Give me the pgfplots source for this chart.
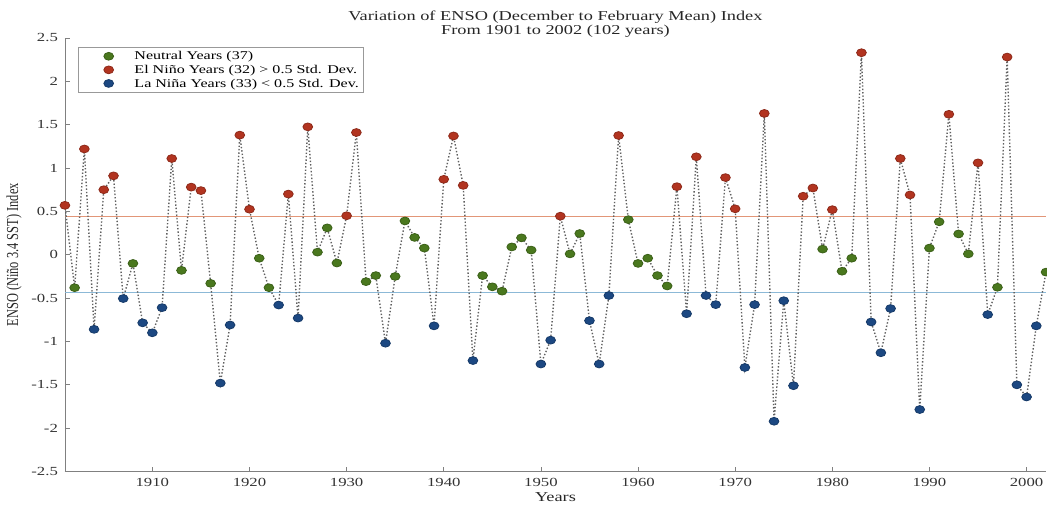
\documentclass[border=0pt]{standalone}
\usepackage{fontspec}
\setmainfont[FakeStretch=1.35]{Liberation Serif}
\newfontfamily\ylfont[FakeStretch=0.74]{Liberation Serif}
\usepackage{pgfplots}
\usepackage{pgfplotstable}
\pgfplotsset{compat=1.18}

\definecolor{ngreen}{RGB}{74,120,30}
\definecolor{nred}{RGB}{178,52,32}
\definecolor{nblue}{RGB}{28,72,130}
\definecolor{hlorange}{RGB}{226,150,120}
\definecolor{hlblue}{RGB}{140,185,215}

% DJF ENSO index, class: n = neutral, e = El Nino, l = La Nina
\pgfplotstableread{
year val cls
1901 0.57 e
1902 -0.38 n
1903 1.22 e
1904 -0.86 l
1905 0.75 e
1906 0.91 e
1907 -0.505 l
1908 -0.10 n
1909 -0.785 l
1910 -0.90 l
1911 -0.61 l
1912 1.11 e
1913 -0.18 n
1914 0.78 e
1915 0.74 e
1916 -0.33 n
1917 -1.48 l
1918 -0.81 l
1919 1.38 e
1920 0.525 e
1921 -0.04 n
1922 -0.38 n
1923 -0.58 l
1924 0.70 e
1925 -0.73 l
1926 1.475 e
1927 0.03 n
1928 0.31 n
1929 -0.095 n
1930 0.45 e
1931 1.41 e
1932 -0.31 n
1933 -0.24 n
1934 -1.02 l
1935 -0.25 n
1936 0.39 n
1937 0.20 n
1938 0.077 n
1939 -0.82 l
1940 0.87 e
1941 1.37 e
1942 0.80 e
1943 -1.22 l
1944 -0.24 n
1945 -0.37 n
1946 -0.42 n
1947 0.09 n
1948 0.195 n
1949 0.054 n
1950 -1.26 l
1951 -0.985 l
1952 0.445 e
1953 0.01 n
1954 0.245 n
1955 -0.76 l
1956 -1.26 l
1957 -0.47 l
1958 1.375 e
1959 0.405 n
1960 -0.10 n
1961 -0.04 n
1962 -0.24 n
1963 -0.36 n
1964 0.785 e
1965 -0.68 l
1966 1.13 e
1967 -0.47 l
1968 -0.575 l
1969 0.89 e
1970 0.53 e
1971 -1.30 l
1972 -0.575 l
1973 1.63 e
1974 -1.92 l
1975 -0.53 l
1976 -1.51 l
1977 0.675 e
1978 0.77 e
1979 0.065 n
1980 0.52 e
1981 -0.19 n
1982 -0.04 n
1983 2.33 e
1984 -0.775 l
1985 -1.13 l
1986 -0.62 l
1987 1.11 e
1988 0.69 e
1989 -1.785 l
1990 0.077 n
1991 0.38 n
1992 1.62 e
1993 0.24 n
1994 0.01 n
1995 1.06 e
1996 -0.69 l
1997 -0.375 n
1998 2.28 e
1999 -1.50 l
2000 -1.64 l
2001 -0.82 l
2002 -0.20 n
}\ensodata

\begin{document}
\begin{tikzpicture}
\begin{axis}[
    name=ax,
    scale only axis,
    width=491pt, height=217pt,
    xmin=1901, xmax=2002, ymin=-2.5, ymax=2.5,
    axis x line=bottom, axis y line=left,
    axis line style={gray, -},
    tick align=inside,
    major tick length=2.5pt,
    tick style={gray, thin},
    xtick={1910,1920,...,2000},
    ytick={-2.5,-2,...,2.5},
    /pgf/number format/1000 sep={},
    /pgf/number format/assume math mode=true,
    ticklabel style={font=\fontsize{6.2}{7}\selectfont, text=black!80},
    xlabel={Years},
    ylabel={ENSO (Niño 3.4 SST) Index},
    xlabel style={font=\fontsize{6.8}{7}\selectfont, text=black!85, yshift=4pt},
    ylabel style={font=\ylfont\fontsize{8.4}{9}\selectfont, text=black!85, yshift=-2pt},
    title={Variation of ENSO (December to February Mean) Index\\From 1901 to 2002 (102 years)},
    title style={font=\fontsize{6.8}{5.6}\selectfont, align=center, text=black!85, yshift=-9.5pt},
    legend cell align=left,
    legend style={at={(0.0132,0.979)}, anchor=north west, draw=gray!80,
        font=\fontsize{5.95}{6.5}\selectfont, row sep=0pt, inner sep=1pt,
        nodes={inner xsep=1.5pt, inner ysep=0.4pt, text height=4.8pt, text depth=1.2pt}},
    legend image code/.code={
        \path[draw=none, fill=none] (0,0) -- (0.9cm,0);
        \draw[#1] plot coordinates {(0.5cm,0cm)};},
]
\addplot[hlorange, line width=0.55pt, forget plot] coordinates {(1901,0.44) (2002,0.44)};
\addplot[hlblue, line width=0.55pt, forget plot] coordinates {(1901,-0.44) (2002,-0.44)};
\addplot[densely dotted, gray!75!black, line width=0.7pt, forget plot]
    table[x=year, y=val] {\ensodata};
\addplot[scatter, only marks, scatter src=explicit symbolic,
    every mark/.append style={xscale=1.25},
    scatter/classes={
        n={mark=*, ngreen, draw=ngreen!80!black},
        e={mark=*, nred, draw=nred!80!black},
        l={mark=*, nblue, draw=nblue!80!black}},
    mark size=1.95pt]
    table[x=year, y=val, meta=cls] {\ensodata};
\legend{Neutral Years (37), El Niño Years (32) > 0.5 Std. Dev., La Niña Years (33) < 0.5 Std. Dev.}
\end{axis}
\pgfresetboundingbox
\path[use as bounding box] ([xshift=-32.5pt, yshift=-18pt]ax.south west)
    rectangle ([xshift=0.5pt, yshift=19pt]ax.north east);
\end{tikzpicture}
\end{document}
